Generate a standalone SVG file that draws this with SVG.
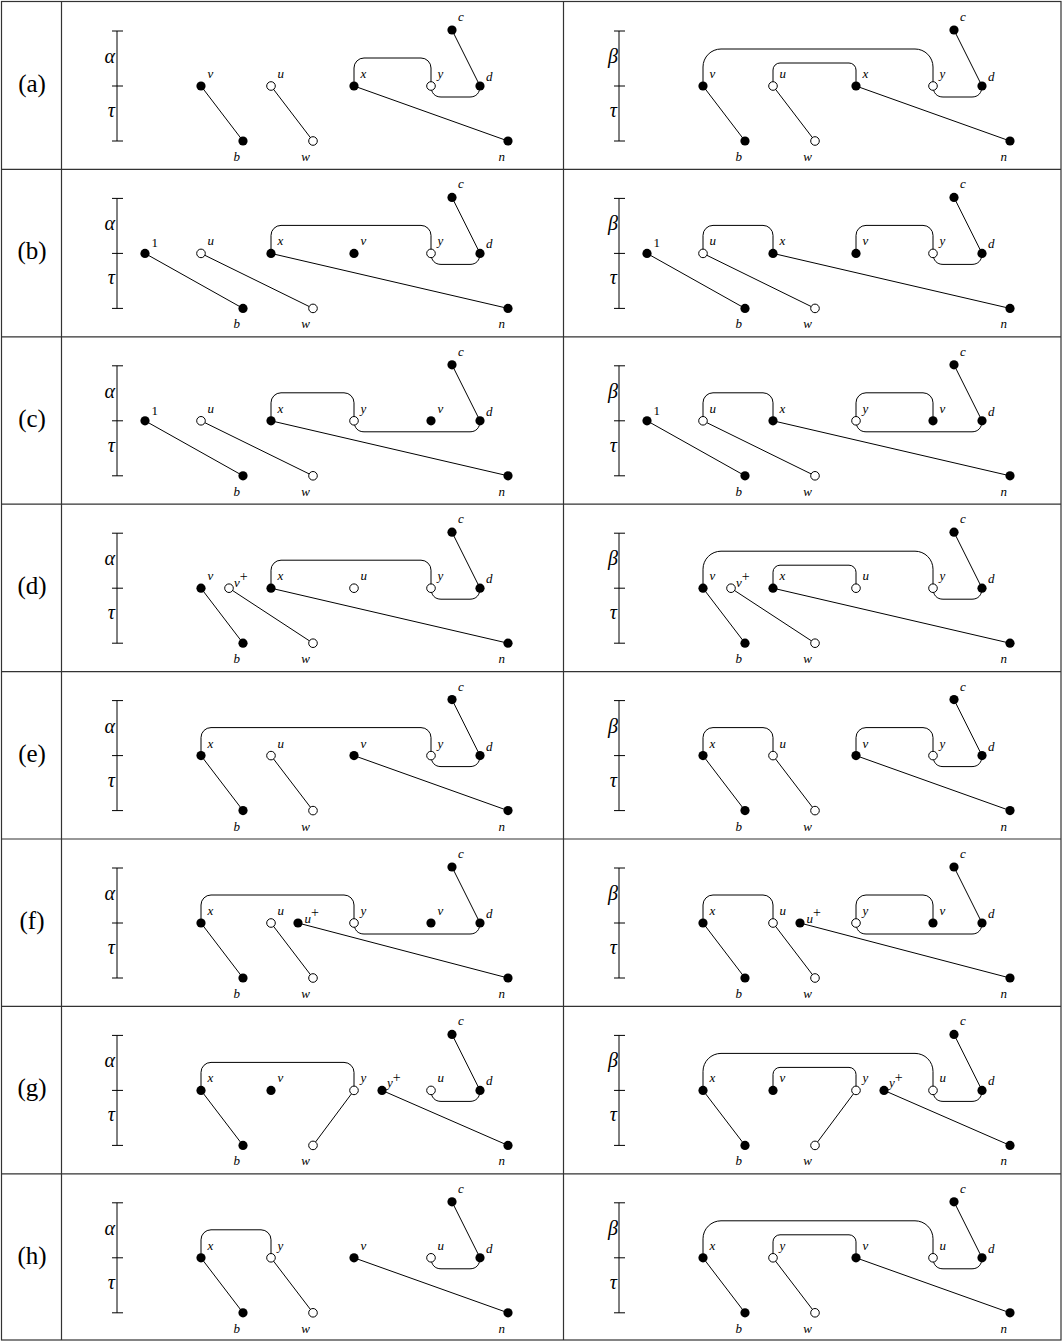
<svg xmlns="http://www.w3.org/2000/svg" width="1062" height="1341" viewBox="0 0 1062 1341">
<style>
.f{fill:#000}
.o{fill:#fff;stroke:#000;stroke-width:1}
.e{fill:none;stroke:#000;stroke-width:1}
.t{fill:none;stroke:#333;stroke-width:1.2}
.lb{font-family:"Liberation Serif",serif;font-style:italic;font-size:13px}
.lbe{font-family:"Liberation Serif",serif;font-style:italic;font-size:13px;text-anchor:end}
.num{font-family:"Liberation Serif",serif;font-size:13px}
.sup{font-style:normal;font-size:14px}
.gk{font-family:"Liberation Serif",serif;font-style:italic;font-size:20px;text-anchor:end}
.rl{font-family:"Liberation Serif",serif;font-size:25px;text-anchor:middle}
</style>
<rect x="0" y="0" width="1062" height="1341" fill="#fff"/>
<g id="table" class="t">
<rect x="1.5" y="1.5" width="1059.5" height="1338.5"/>
<path d="M61.5 1.5V1340M563.5 1.5V1340M1.5 169.4H1061M1.5 336.8H1061M1.5 504.2H1061M1.5 671.6H1061M1.5 839H1061M1.5 1006.4H1061M1.5 1173.8H1061"/>
</g>
<g id="row-labels">
<text class="rl" x="32" y="92">(a)</text>
<text class="rl" x="32" y="259.4">(b)</text>
<text class="rl" x="32" y="426.8">(c)</text>
<text class="rl" x="32" y="594.2">(d)</text>
<text class="rl" x="32" y="761.6">(e)</text>
<text class="rl" x="32" y="929">(f)</text>
<text class="rl" x="32" y="1096.4">(g)</text>
<text class="rl" x="32" y="1263.8">(h)</text>
</g>

<!-- ROW A -->
<g id="aL" transform="translate(0,0)">
<g id="aL-bar"><path class="e" d="M117 31V141M112 31H123M112 86H123M112 141H123"/><text class="gk" x="115" y="63">α</text><text class="gk" x="115" y="117">τ</text></g>
<g id="aL-edges" class="e">
<path d="M201 86L243 141"/><path d="M271 86L313 141"/><path d="M354 86L508 141"/><path d="M452 30L480 86"/>
<path d="M354 86V68A10 10 0 0 1 364 58H421A10 10 0 0 1 431 68V86"/>
<path d="M431 86C431 93 435 97 441 97H470C476 97 480 93 480 86"/>
</g>
<g id="aL-v"><circle class="f" cx="201" cy="86" r="4.6"/><text class="lb" x="207.5" y="78">v</text></g>
<g id="aL-u"><circle class="o" cx="271" cy="86" r="4.3"/><text class="lb" x="277.5" y="78">u</text></g>
<g id="aL-x"><circle class="f" cx="354" cy="86" r="4.6"/><text class="lb" x="360.5" y="78">x</text></g>
<g id="aL-y"><circle class="o" cx="431" cy="86" r="4.3"/><text class="lb" x="437.5" y="78">y</text></g>
<g id="aL-d"><circle class="f" cx="480" cy="86" r="4.6"/><text class="lb" x="486" y="81">d</text></g>
<g id="aL-c"><circle class="f" cx="452" cy="30" r="4.6"/><text class="lb" x="458" y="21">c</text></g>
<g id="aL-b"><circle class="f" cx="243" cy="141" r="4.6"/><text class="lbe" x="240" y="161">b</text></g>
<g id="aL-w"><circle class="o" cx="313" cy="141" r="4.3"/><text class="lbe" x="310" y="161">w</text></g>
<g id="aL-n"><circle class="f" cx="508" cy="141" r="4.6"/><text class="lbe" x="505" y="161">n</text></g>
</g>
<g id="aR" transform="translate(502,0)">
<g id="aR-bar"><path class="e" d="M117 31V141M112 31H123M112 86H123M112 141H123"/><text class="gk" x="116" y="63">β</text><text class="gk" x="115" y="117">τ</text></g>
<g id="aR-edges" class="e">
<path d="M201 86L243 141"/><path d="M271 86L313 141"/><path d="M354 86L508 141"/><path d="M452 30L480 86"/>
<path d="M201 86V67A18 18 0 0 1 219 49H413A18 18 0 0 1 431 67V86"/>
<path d="M271 86V70A7 7 0 0 1 278 63H347A7 7 0 0 1 354 70V86"/>
<path d="M431 86C431 93 435 97 441 97H470C476 97 480 93 480 86"/>
</g>
<g id="aR-v"><circle class="f" cx="201" cy="86" r="4.6"/><text class="lb" x="207.5" y="78">v</text></g>
<g id="aR-u"><circle class="o" cx="271" cy="86" r="4.3"/><text class="lb" x="277.5" y="78">u</text></g>
<g id="aR-x"><circle class="f" cx="354" cy="86" r="4.6"/><text class="lb" x="360.5" y="78">x</text></g>
<g id="aR-y"><circle class="o" cx="431" cy="86" r="4.3"/><text class="lb" x="437.5" y="78">y</text></g>
<g id="aR-d"><circle class="f" cx="480" cy="86" r="4.6"/><text class="lb" x="486" y="81">d</text></g>
<g id="aR-c"><circle class="f" cx="452" cy="30" r="4.6"/><text class="lb" x="458" y="21">c</text></g>
<g id="aR-b"><circle class="f" cx="243" cy="141" r="4.6"/><text class="lbe" x="240" y="161">b</text></g>
<g id="aR-w"><circle class="o" cx="313" cy="141" r="4.3"/><text class="lbe" x="310" y="161">w</text></g>
<g id="aR-n"><circle class="f" cx="508" cy="141" r="4.6"/><text class="lbe" x="505" y="161">n</text></g>
</g>

<!-- ROW B -->
<g id="bL" transform="translate(0,167.4)">
<g id="bL-bar"><path class="e" d="M117 31V141M112 31H123M112 86H123M112 141H123"/><text class="gk" x="115" y="63">α</text><text class="gk" x="115" y="117">τ</text></g>
<g id="bL-edges" class="e">
<path d="M145 86L243 141"/><path d="M201 86L313 141"/><path d="M271 86L508 141"/><path d="M452 30L480 86"/>
<path d="M271 86V68A10 10 0 0 1 281 58H421A10 10 0 0 1 431 68V86"/>
<path d="M431 86C431 93 435 97 441 97H470C476 97 480 93 480 86"/>
</g>
<g id="bL-1"><circle class="f" cx="145" cy="86" r="4.6"/><text class="num" x="151.5" y="80">1</text></g>
<g id="bL-u"><circle class="o" cx="201" cy="86" r="4.3"/><text class="lb" x="207.5" y="78">u</text></g>
<g id="bL-x"><circle class="f" cx="271" cy="86" r="4.6"/><text class="lb" x="277.5" y="78">x</text></g>
<g id="bL-v"><circle class="f" cx="354" cy="86" r="4.6"/><text class="lb" x="360.5" y="78">v</text></g>
<g id="bL-y"><circle class="o" cx="431" cy="86" r="4.3"/><text class="lb" x="437.5" y="78">y</text></g>
<g id="bL-d"><circle class="f" cx="480" cy="86" r="4.6"/><text class="lb" x="486" y="81">d</text></g>
<g id="bL-c"><circle class="f" cx="452" cy="30" r="4.6"/><text class="lb" x="458" y="21">c</text></g>
<g id="bL-b"><circle class="f" cx="243" cy="141" r="4.6"/><text class="lbe" x="240" y="161">b</text></g>
<g id="bL-w"><circle class="o" cx="313" cy="141" r="4.3"/><text class="lbe" x="310" y="161">w</text></g>
<g id="bL-n"><circle class="f" cx="508" cy="141" r="4.6"/><text class="lbe" x="505" y="161">n</text></g>
</g>
<g id="bR" transform="translate(502,167.4)">
<g id="bR-bar"><path class="e" d="M117 31V141M112 31H123M112 86H123M112 141H123"/><text class="gk" x="116" y="63">β</text><text class="gk" x="115" y="117">τ</text></g>
<g id="bR-edges" class="e">
<path d="M145 86L243 141"/><path d="M201 86L313 141"/><path d="M271 86L508 141"/><path d="M452 30L480 86"/>
<path d="M201 86V68A10 10 0 0 1 211 58H261A10 10 0 0 1 271 68V86"/>
<path d="M354 86V68A10 10 0 0 1 364 58H421A10 10 0 0 1 431 68V86"/>
<path d="M431 86C431 93 435 97 441 97H470C476 97 480 93 480 86"/>
</g>
<g id="bR-1"><circle class="f" cx="145" cy="86" r="4.6"/><text class="num" x="151.5" y="80">1</text></g>
<g id="bR-u"><circle class="o" cx="201" cy="86" r="4.3"/><text class="lb" x="207.5" y="78">u</text></g>
<g id="bR-x"><circle class="f" cx="271" cy="86" r="4.6"/><text class="lb" x="277.5" y="78">x</text></g>
<g id="bR-v"><circle class="f" cx="354" cy="86" r="4.6"/><text class="lb" x="360.5" y="78">v</text></g>
<g id="bR-y"><circle class="o" cx="431" cy="86" r="4.3"/><text class="lb" x="437.5" y="78">y</text></g>
<g id="bR-d"><circle class="f" cx="480" cy="86" r="4.6"/><text class="lb" x="486" y="81">d</text></g>
<g id="bR-c"><circle class="f" cx="452" cy="30" r="4.6"/><text class="lb" x="458" y="21">c</text></g>
<g id="bR-b"><circle class="f" cx="243" cy="141" r="4.6"/><text class="lbe" x="240" y="161">b</text></g>
<g id="bR-w"><circle class="o" cx="313" cy="141" r="4.3"/><text class="lbe" x="310" y="161">w</text></g>
<g id="bR-n"><circle class="f" cx="508" cy="141" r="4.6"/><text class="lbe" x="505" y="161">n</text></g>
</g>

<!-- ROW C -->
<g id="cL" transform="translate(0,334.8)">
<g id="cL-bar"><path class="e" d="M117 31V141M112 31H123M112 86H123M112 141H123"/><text class="gk" x="115" y="63">α</text><text class="gk" x="115" y="117">τ</text></g>
<g id="cL-edges" class="e">
<path d="M145 86L243 141"/><path d="M201 86L313 141"/><path d="M271 86L508 141"/><path d="M452 30L480 86"/>
<path d="M271 86V68A10 10 0 0 1 281 58H344A10 10 0 0 1 354 68V86"/>
<path d="M354 86C354 93 358 97 364 97H470C476 97 480 93 480 86"/>
</g>
<g id="cL-1"><circle class="f" cx="145" cy="86" r="4.6"/><text class="num" x="151.5" y="80">1</text></g>
<g id="cL-u"><circle class="o" cx="201" cy="86" r="4.3"/><text class="lb" x="207.5" y="78">u</text></g>
<g id="cL-x"><circle class="f" cx="271" cy="86" r="4.6"/><text class="lb" x="277.5" y="78">x</text></g>
<g id="cL-y"><circle class="o" cx="354" cy="86" r="4.3"/><text class="lb" x="360.5" y="78">y</text></g>
<g id="cL-v"><circle class="f" cx="431" cy="86" r="4.6"/><text class="lb" x="437.5" y="78">v</text></g>
<g id="cL-d"><circle class="f" cx="480" cy="86" r="4.6"/><text class="lb" x="486" y="81">d</text></g>
<g id="cL-c"><circle class="f" cx="452" cy="30" r="4.6"/><text class="lb" x="458" y="21">c</text></g>
<g id="cL-b"><circle class="f" cx="243" cy="141" r="4.6"/><text class="lbe" x="240" y="161">b</text></g>
<g id="cL-w"><circle class="o" cx="313" cy="141" r="4.3"/><text class="lbe" x="310" y="161">w</text></g>
<g id="cL-n"><circle class="f" cx="508" cy="141" r="4.6"/><text class="lbe" x="505" y="161">n</text></g>
</g>
<g id="cR" transform="translate(502,334.8)">
<g id="cR-bar"><path class="e" d="M117 31V141M112 31H123M112 86H123M112 141H123"/><text class="gk" x="116" y="63">β</text><text class="gk" x="115" y="117">τ</text></g>
<g id="cR-edges" class="e">
<path d="M145 86L243 141"/><path d="M201 86L313 141"/><path d="M271 86L508 141"/><path d="M452 30L480 86"/>
<path d="M201 86V68A10 10 0 0 1 211 58H261A10 10 0 0 1 271 68V86"/>
<path d="M354 86V68A10 10 0 0 1 364 58H421A10 10 0 0 1 431 68V86"/>
<path d="M354 86C354 93 358 97 364 97H470C476 97 480 93 480 86"/>
</g>
<g id="cR-1"><circle class="f" cx="145" cy="86" r="4.6"/><text class="num" x="151.5" y="80">1</text></g>
<g id="cR-u"><circle class="o" cx="201" cy="86" r="4.3"/><text class="lb" x="207.5" y="78">u</text></g>
<g id="cR-x"><circle class="f" cx="271" cy="86" r="4.6"/><text class="lb" x="277.5" y="78">x</text></g>
<g id="cR-y"><circle class="o" cx="354" cy="86" r="4.3"/><text class="lb" x="360.5" y="78">y</text></g>
<g id="cR-v"><circle class="f" cx="431" cy="86" r="4.6"/><text class="lb" x="437.5" y="78">v</text></g>
<g id="cR-d"><circle class="f" cx="480" cy="86" r="4.6"/><text class="lb" x="486" y="81">d</text></g>
<g id="cR-c"><circle class="f" cx="452" cy="30" r="4.6"/><text class="lb" x="458" y="21">c</text></g>
<g id="cR-b"><circle class="f" cx="243" cy="141" r="4.6"/><text class="lbe" x="240" y="161">b</text></g>
<g id="cR-w"><circle class="o" cx="313" cy="141" r="4.3"/><text class="lbe" x="310" y="161">w</text></g>
<g id="cR-n"><circle class="f" cx="508" cy="141" r="4.6"/><text class="lbe" x="505" y="161">n</text></g>
</g>

<!-- ROW D -->
<g id="dL" transform="translate(0,502.2)">
<g id="dL-bar"><path class="e" d="M117 31V141M112 31H123M112 86H123M112 141H123"/><text class="gk" x="115" y="63">α</text><text class="gk" x="115" y="117">τ</text></g>
<g id="dL-edges" class="e">
<path d="M201 86L243 141"/><path d="M229 86L313 141"/><path d="M271 86L508 141"/><path d="M452 30L480 86"/>
<path d="M271 86V68A10 10 0 0 1 281 58H421A10 10 0 0 1 431 68V86"/>
<path d="M431 86C431 93 435 97 441 97H470C476 97 480 93 480 86"/>
</g>
<g id="dL-v"><circle class="f" cx="201" cy="86" r="4.6"/><text class="lb" x="207.5" y="78">v</text></g>
<g id="dL-vp"><circle class="o" cx="229" cy="86" r="4.3"/><text class="lb" x="234" y="85">v<tspan class="sup" dy="-6">+</tspan></text></g>
<g id="dL-x"><circle class="f" cx="271" cy="86" r="4.6"/><text class="lb" x="277.5" y="78">x</text></g>
<g id="dL-u"><circle class="o" cx="354" cy="86" r="4.3"/><text class="lb" x="360.5" y="78">u</text></g>
<g id="dL-y"><circle class="o" cx="431" cy="86" r="4.3"/><text class="lb" x="437.5" y="78">y</text></g>
<g id="dL-d"><circle class="f" cx="480" cy="86" r="4.6"/><text class="lb" x="486" y="81">d</text></g>
<g id="dL-c"><circle class="f" cx="452" cy="30" r="4.6"/><text class="lb" x="458" y="21">c</text></g>
<g id="dL-b"><circle class="f" cx="243" cy="141" r="4.6"/><text class="lbe" x="240" y="161">b</text></g>
<g id="dL-w"><circle class="o" cx="313" cy="141" r="4.3"/><text class="lbe" x="310" y="161">w</text></g>
<g id="dL-n"><circle class="f" cx="508" cy="141" r="4.6"/><text class="lbe" x="505" y="161">n</text></g>
</g>
<g id="dR" transform="translate(502,502.2)">
<g id="dR-bar"><path class="e" d="M117 31V141M112 31H123M112 86H123M112 141H123"/><text class="gk" x="116" y="63">β</text><text class="gk" x="115" y="117">τ</text></g>
<g id="dR-edges" class="e">
<path d="M201 86L243 141"/><path d="M229 86L313 141"/><path d="M271 86L508 141"/><path d="M452 30L480 86"/>
<path d="M201 86V67A18 18 0 0 1 219 49H413A18 18 0 0 1 431 67V86"/>
<path d="M271 86V70A7 7 0 0 1 278 63H347A7 7 0 0 1 354 70V86"/>
<path d="M431 86C431 93 435 97 441 97H470C476 97 480 93 480 86"/>
</g>
<g id="dR-v"><circle class="f" cx="201" cy="86" r="4.6"/><text class="lb" x="207.5" y="78">v</text></g>
<g id="dR-vp"><circle class="o" cx="229" cy="86" r="4.3"/><text class="lb" x="234" y="85">v<tspan class="sup" dy="-6">+</tspan></text></g>
<g id="dR-x"><circle class="f" cx="271" cy="86" r="4.6"/><text class="lb" x="277.5" y="78">x</text></g>
<g id="dR-u"><circle class="o" cx="354" cy="86" r="4.3"/><text class="lb" x="360.5" y="78">u</text></g>
<g id="dR-y"><circle class="o" cx="431" cy="86" r="4.3"/><text class="lb" x="437.5" y="78">y</text></g>
<g id="dR-d"><circle class="f" cx="480" cy="86" r="4.6"/><text class="lb" x="486" y="81">d</text></g>
<g id="dR-c"><circle class="f" cx="452" cy="30" r="4.6"/><text class="lb" x="458" y="21">c</text></g>
<g id="dR-b"><circle class="f" cx="243" cy="141" r="4.6"/><text class="lbe" x="240" y="161">b</text></g>
<g id="dR-w"><circle class="o" cx="313" cy="141" r="4.3"/><text class="lbe" x="310" y="161">w</text></g>
<g id="dR-n"><circle class="f" cx="508" cy="141" r="4.6"/><text class="lbe" x="505" y="161">n</text></g>
</g>

<!-- ROW E -->
<g id="eL" transform="translate(0,669.6)">
<g id="eL-bar"><path class="e" d="M117 31V141M112 31H123M112 86H123M112 141H123"/><text class="gk" x="115" y="63">α</text><text class="gk" x="115" y="117">τ</text></g>
<g id="eL-edges" class="e">
<path d="M201 86L243 141"/><path d="M271 86L313 141"/><path d="M354 86L508 141"/><path d="M452 30L480 86"/>
<path d="M201 86V68A10 10 0 0 1 211 58H421A10 10 0 0 1 431 68V86"/>
<path d="M431 86C431 93 435 97 441 97H470C476 97 480 93 480 86"/>
</g>
<g id="eL-x"><circle class="f" cx="201" cy="86" r="4.6"/><text class="lb" x="207.5" y="78">x</text></g>
<g id="eL-u"><circle class="o" cx="271" cy="86" r="4.3"/><text class="lb" x="277.5" y="78">u</text></g>
<g id="eL-v"><circle class="f" cx="354" cy="86" r="4.6"/><text class="lb" x="360.5" y="78">v</text></g>
<g id="eL-y"><circle class="o" cx="431" cy="86" r="4.3"/><text class="lb" x="437.5" y="78">y</text></g>
<g id="eL-d"><circle class="f" cx="480" cy="86" r="4.6"/><text class="lb" x="486" y="81">d</text></g>
<g id="eL-c"><circle class="f" cx="452" cy="30" r="4.6"/><text class="lb" x="458" y="21">c</text></g>
<g id="eL-b"><circle class="f" cx="243" cy="141" r="4.6"/><text class="lbe" x="240" y="161">b</text></g>
<g id="eL-w"><circle class="o" cx="313" cy="141" r="4.3"/><text class="lbe" x="310" y="161">w</text></g>
<g id="eL-n"><circle class="f" cx="508" cy="141" r="4.6"/><text class="lbe" x="505" y="161">n</text></g>
</g>
<g id="eR" transform="translate(502,669.6)">
<g id="eR-bar"><path class="e" d="M117 31V141M112 31H123M112 86H123M112 141H123"/><text class="gk" x="116" y="63">β</text><text class="gk" x="115" y="117">τ</text></g>
<g id="eR-edges" class="e">
<path d="M201 86L243 141"/><path d="M271 86L313 141"/><path d="M354 86L508 141"/><path d="M452 30L480 86"/>
<path d="M201 86V68A10 10 0 0 1 211 58H261A10 10 0 0 1 271 68V86"/>
<path d="M354 86V68A10 10 0 0 1 364 58H421A10 10 0 0 1 431 68V86"/>
<path d="M431 86C431 93 435 97 441 97H470C476 97 480 93 480 86"/>
</g>
<g id="eR-x"><circle class="f" cx="201" cy="86" r="4.6"/><text class="lb" x="207.5" y="78">x</text></g>
<g id="eR-u"><circle class="o" cx="271" cy="86" r="4.3"/><text class="lb" x="277.5" y="78">u</text></g>
<g id="eR-v"><circle class="f" cx="354" cy="86" r="4.6"/><text class="lb" x="360.5" y="78">v</text></g>
<g id="eR-y"><circle class="o" cx="431" cy="86" r="4.3"/><text class="lb" x="437.5" y="78">y</text></g>
<g id="eR-d"><circle class="f" cx="480" cy="86" r="4.6"/><text class="lb" x="486" y="81">d</text></g>
<g id="eR-c"><circle class="f" cx="452" cy="30" r="4.6"/><text class="lb" x="458" y="21">c</text></g>
<g id="eR-b"><circle class="f" cx="243" cy="141" r="4.6"/><text class="lbe" x="240" y="161">b</text></g>
<g id="eR-w"><circle class="o" cx="313" cy="141" r="4.3"/><text class="lbe" x="310" y="161">w</text></g>
<g id="eR-n"><circle class="f" cx="508" cy="141" r="4.6"/><text class="lbe" x="505" y="161">n</text></g>
</g>

<!-- ROW F -->
<g id="fL" transform="translate(0,837)">
<g id="fL-bar"><path class="e" d="M117 31V141M112 31H123M112 86H123M112 141H123"/><text class="gk" x="115" y="63">α</text><text class="gk" x="115" y="117">τ</text></g>
<g id="fL-edges" class="e">
<path d="M201 86L243 141"/><path d="M271 86L313 141"/><path d="M298 86L508 141"/><path d="M452 30L480 86"/>
<path d="M201 86V68A10 10 0 0 1 211 58H344A10 10 0 0 1 354 68V86"/>
<path d="M354 86C354 93 358 97 364 97H470C476 97 480 93 480 86"/>
</g>
<g id="fL-x"><circle class="f" cx="201" cy="86" r="4.6"/><text class="lb" x="207.5" y="78">x</text></g>
<g id="fL-u"><circle class="o" cx="271" cy="86" r="4.3"/><text class="lb" x="277.5" y="78">u</text></g>
<g id="fL-up"><circle class="f" cx="298" cy="86" r="4.6"/><text class="lb" x="304.5" y="86">u<tspan class="sup" dy="-6">+</tspan></text></g>
<g id="fL-y"><circle class="o" cx="354" cy="86" r="4.3"/><text class="lb" x="360.5" y="78">y</text></g>
<g id="fL-v"><circle class="f" cx="431" cy="86" r="4.6"/><text class="lb" x="437.5" y="78">v</text></g>
<g id="fL-d"><circle class="f" cx="480" cy="86" r="4.6"/><text class="lb" x="486" y="81">d</text></g>
<g id="fL-c"><circle class="f" cx="452" cy="30" r="4.6"/><text class="lb" x="458" y="21">c</text></g>
<g id="fL-b"><circle class="f" cx="243" cy="141" r="4.6"/><text class="lbe" x="240" y="161">b</text></g>
<g id="fL-w"><circle class="o" cx="313" cy="141" r="4.3"/><text class="lbe" x="310" y="161">w</text></g>
<g id="fL-n"><circle class="f" cx="508" cy="141" r="4.6"/><text class="lbe" x="505" y="161">n</text></g>
</g>
<g id="fR" transform="translate(502,837)">
<g id="fR-bar"><path class="e" d="M117 31V141M112 31H123M112 86H123M112 141H123"/><text class="gk" x="116" y="63">β</text><text class="gk" x="115" y="117">τ</text></g>
<g id="fR-edges" class="e">
<path d="M201 86L243 141"/><path d="M271 86L313 141"/><path d="M298 86L508 141"/><path d="M452 30L480 86"/>
<path d="M201 86V68A10 10 0 0 1 211 58H261A10 10 0 0 1 271 68V86"/>
<path d="M354 86V68A10 10 0 0 1 364 58H421A10 10 0 0 1 431 68V86"/>
<path d="M354 86C354 93 358 97 364 97H470C476 97 480 93 480 86"/>
</g>
<g id="fR-x"><circle class="f" cx="201" cy="86" r="4.6"/><text class="lb" x="207.5" y="78">x</text></g>
<g id="fR-u"><circle class="o" cx="271" cy="86" r="4.3"/><text class="lb" x="277.5" y="78">u</text></g>
<g id="fR-up"><circle class="f" cx="298" cy="86" r="4.6"/><text class="lb" x="304.5" y="86">u<tspan class="sup" dy="-6">+</tspan></text></g>
<g id="fR-y"><circle class="o" cx="354" cy="86" r="4.3"/><text class="lb" x="360.5" y="78">y</text></g>
<g id="fR-v"><circle class="f" cx="431" cy="86" r="4.6"/><text class="lb" x="437.5" y="78">v</text></g>
<g id="fR-d"><circle class="f" cx="480" cy="86" r="4.6"/><text class="lb" x="486" y="81">d</text></g>
<g id="fR-c"><circle class="f" cx="452" cy="30" r="4.6"/><text class="lb" x="458" y="21">c</text></g>
<g id="fR-b"><circle class="f" cx="243" cy="141" r="4.6"/><text class="lbe" x="240" y="161">b</text></g>
<g id="fR-w"><circle class="o" cx="313" cy="141" r="4.3"/><text class="lbe" x="310" y="161">w</text></g>
<g id="fR-n"><circle class="f" cx="508" cy="141" r="4.6"/><text class="lbe" x="505" y="161">n</text></g>
</g>

<!-- ROW G -->
<g id="gL" transform="translate(0,1004.4)">
<g id="gL-bar"><path class="e" d="M117 31V141M112 31H123M112 86H123M112 141H123"/><text class="gk" x="115" y="63">α</text><text class="gk" x="115" y="117">τ</text></g>
<g id="gL-edges" class="e">
<path d="M201 86L243 141"/><path d="M354 86L313 141"/><path d="M382 86L508 141"/><path d="M452 30L480 86"/>
<path d="M201 86V68A10 10 0 0 1 211 58H344A10 10 0 0 1 354 68V86"/>
<path d="M431 86C431 93 435 97 441 97H470C476 97 480 93 480 86"/>
</g>
<g id="gL-x"><circle class="f" cx="201" cy="86" r="4.6"/><text class="lb" x="207.5" y="78">x</text></g>
<g id="gL-v"><circle class="f" cx="271" cy="86" r="4.6"/><text class="lb" x="277.5" y="78">v</text></g>
<g id="gL-y"><circle class="o" cx="354" cy="86" r="4.3"/><text class="lb" x="360.5" y="78">y</text></g>
<g id="gL-yp"><circle class="f" cx="382" cy="86" r="4.6"/><text class="lb" x="387" y="83">y<tspan class="sup" dy="-5">+</tspan></text></g>
<g id="gL-u"><circle class="o" cx="431" cy="86" r="4.3"/><text class="lb" x="437.5" y="78">u</text></g>
<g id="gL-d"><circle class="f" cx="480" cy="86" r="4.6"/><text class="lb" x="486" y="81">d</text></g>
<g id="gL-c"><circle class="f" cx="452" cy="30" r="4.6"/><text class="lb" x="458" y="21">c</text></g>
<g id="gL-b"><circle class="f" cx="243" cy="141" r="4.6"/><text class="lbe" x="240" y="161">b</text></g>
<g id="gL-w"><circle class="o" cx="313" cy="141" r="4.3"/><text class="lbe" x="310" y="161">w</text></g>
<g id="gL-n"><circle class="f" cx="508" cy="141" r="4.6"/><text class="lbe" x="505" y="161">n</text></g>
</g>
<g id="gR" transform="translate(502,1004.4)">
<g id="gR-bar"><path class="e" d="M117 31V141M112 31H123M112 86H123M112 141H123"/><text class="gk" x="116" y="63">β</text><text class="gk" x="115" y="117">τ</text></g>
<g id="gR-edges" class="e">
<path d="M201 86L243 141"/><path d="M354 86L313 141"/><path d="M382 86L508 141"/><path d="M452 30L480 86"/>
<path d="M201 86V67A18 18 0 0 1 219 49H413A18 18 0 0 1 431 67V86"/>
<path d="M271 86V70A7 7 0 0 1 278 63H347A7 7 0 0 1 354 70V86"/>
<path d="M431 86C431 93 435 97 441 97H470C476 97 480 93 480 86"/>
</g>
<g id="gR-x"><circle class="f" cx="201" cy="86" r="4.6"/><text class="lb" x="207.5" y="78">x</text></g>
<g id="gR-v"><circle class="f" cx="271" cy="86" r="4.6"/><text class="lb" x="277.5" y="78">v</text></g>
<g id="gR-y"><circle class="o" cx="354" cy="86" r="4.3"/><text class="lb" x="360.5" y="78">y</text></g>
<g id="gR-yp"><circle class="f" cx="382" cy="86" r="4.6"/><text class="lb" x="387" y="83">y<tspan class="sup" dy="-5">+</tspan></text></g>
<g id="gR-u"><circle class="o" cx="431" cy="86" r="4.3"/><text class="lb" x="437.5" y="78">u</text></g>
<g id="gR-d"><circle class="f" cx="480" cy="86" r="4.6"/><text class="lb" x="486" y="81">d</text></g>
<g id="gR-c"><circle class="f" cx="452" cy="30" r="4.6"/><text class="lb" x="458" y="21">c</text></g>
<g id="gR-b"><circle class="f" cx="243" cy="141" r="4.6"/><text class="lbe" x="240" y="161">b</text></g>
<g id="gR-w"><circle class="o" cx="313" cy="141" r="4.3"/><text class="lbe" x="310" y="161">w</text></g>
<g id="gR-n"><circle class="f" cx="508" cy="141" r="4.6"/><text class="lbe" x="505" y="161">n</text></g>
</g>

<!-- ROW H -->
<g id="hL" transform="translate(0,1171.8)">
<g id="hL-bar"><path class="e" d="M117 31V141M112 31H123M112 86H123M112 141H123"/><text class="gk" x="115" y="63">α</text><text class="gk" x="115" y="117">τ</text></g>
<g id="hL-edges" class="e">
<path d="M201 86L243 141"/><path d="M271 86L313 141"/><path d="M354 86L508 141"/><path d="M452 30L480 86"/>
<path d="M201 86V68A10 10 0 0 1 211 58H261A10 10 0 0 1 271 68V86"/>
<path d="M431 86C431 93 435 97 441 97H470C476 97 480 93 480 86"/>
</g>
<g id="hL-x"><circle class="f" cx="201" cy="86" r="4.6"/><text class="lb" x="207.5" y="78">x</text></g>
<g id="hL-y"><circle class="o" cx="271" cy="86" r="4.3"/><text class="lb" x="277.5" y="78">y</text></g>
<g id="hL-v"><circle class="f" cx="354" cy="86" r="4.6"/><text class="lb" x="360.5" y="78">v</text></g>
<g id="hL-u"><circle class="o" cx="431" cy="86" r="4.3"/><text class="lb" x="437.5" y="78">u</text></g>
<g id="hL-d"><circle class="f" cx="480" cy="86" r="4.6"/><text class="lb" x="486" y="81">d</text></g>
<g id="hL-c"><circle class="f" cx="452" cy="30" r="4.6"/><text class="lb" x="458" y="21">c</text></g>
<g id="hL-b"><circle class="f" cx="243" cy="141" r="4.6"/><text class="lbe" x="240" y="161">b</text></g>
<g id="hL-w"><circle class="o" cx="313" cy="141" r="4.3"/><text class="lbe" x="310" y="161">w</text></g>
<g id="hL-n"><circle class="f" cx="508" cy="141" r="4.6"/><text class="lbe" x="505" y="161">n</text></g>
</g>
<g id="hR" transform="translate(502,1171.8)">
<g id="hR-bar"><path class="e" d="M117 31V141M112 31H123M112 86H123M112 141H123"/><text class="gk" x="116" y="63">β</text><text class="gk" x="115" y="117">τ</text></g>
<g id="hR-edges" class="e">
<path d="M201 86L243 141"/><path d="M271 86L313 141"/><path d="M354 86L508 141"/><path d="M452 30L480 86"/>
<path d="M201 86V67A18 18 0 0 1 219 49H413A18 18 0 0 1 431 67V86"/>
<path d="M271 86V70A7 7 0 0 1 278 63H347A7 7 0 0 1 354 70V86"/>
<path d="M431 86C431 93 435 97 441 97H470C476 97 480 93 480 86"/>
</g>
<g id="hR-x"><circle class="f" cx="201" cy="86" r="4.6"/><text class="lb" x="207.5" y="78">x</text></g>
<g id="hR-y"><circle class="o" cx="271" cy="86" r="4.3"/><text class="lb" x="277.5" y="78">y</text></g>
<g id="hR-v"><circle class="f" cx="354" cy="86" r="4.6"/><text class="lb" x="360.5" y="78">v</text></g>
<g id="hR-u"><circle class="o" cx="431" cy="86" r="4.3"/><text class="lb" x="437.5" y="78">u</text></g>
<g id="hR-d"><circle class="f" cx="480" cy="86" r="4.6"/><text class="lb" x="486" y="81">d</text></g>
<g id="hR-c"><circle class="f" cx="452" cy="30" r="4.6"/><text class="lb" x="458" y="21">c</text></g>
<g id="hR-b"><circle class="f" cx="243" cy="141" r="4.6"/><text class="lbe" x="240" y="161">b</text></g>
<g id="hR-w"><circle class="o" cx="313" cy="141" r="4.3"/><text class="lbe" x="310" y="161">w</text></g>
<g id="hR-n"><circle class="f" cx="508" cy="141" r="4.6"/><text class="lbe" x="505" y="161">n</text></g>
</g>
</svg>
